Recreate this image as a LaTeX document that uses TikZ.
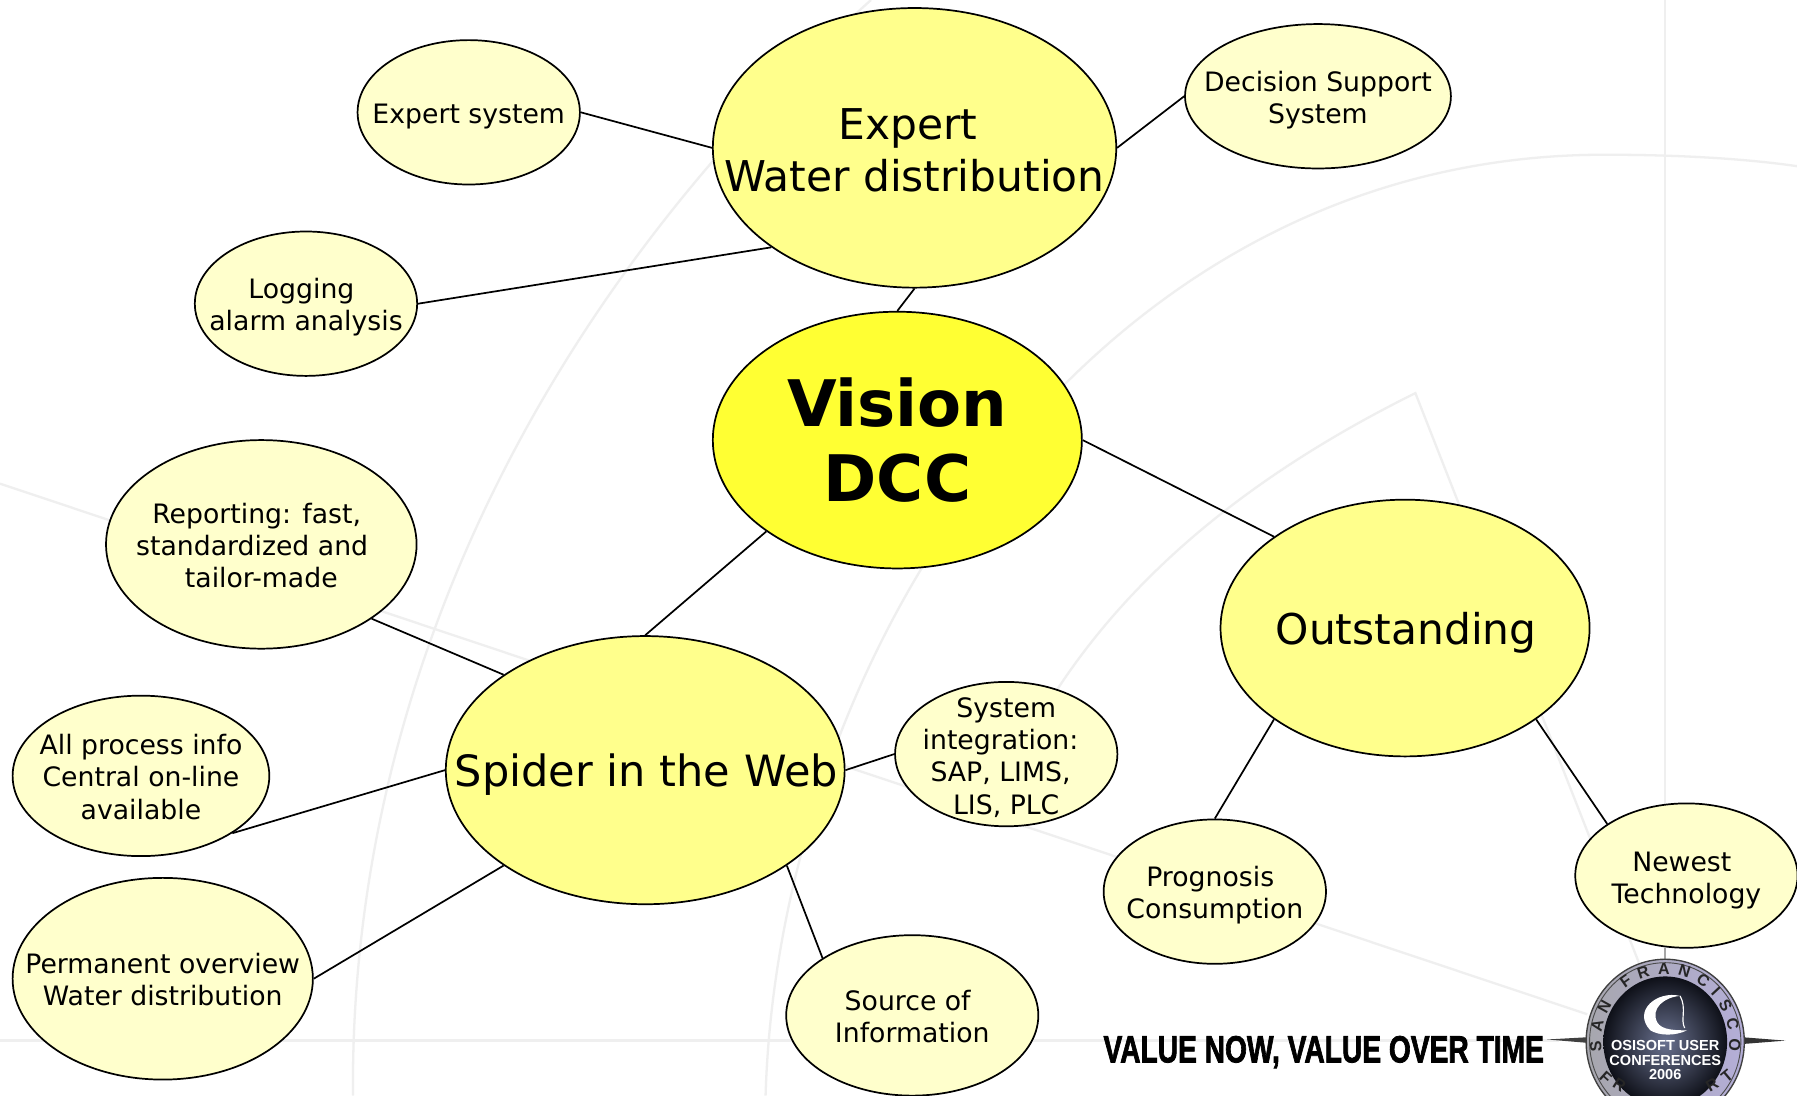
\documentclass[tikz,border=0pt]{standalone}
\usepackage{fontspec}
\setmainfont{DejaVu Sans}
\newfontfamily\sloganfont{Liberation Sans Bold}[FakeBold=2.2]
\newfontfamily\logofont{Liberation Sans Bold}
\usetikzlibrary{shapes.geometric,decorations.text,calc}
\definecolor{small}{HTML}{FFFFCC}
\definecolor{mid}{HTML}{FFFF8C}
\definecolor{core}{HTML}{FFFF33}
\definecolor{wm}{HTML}{EFEFEF}
\definecolor{ringa}{HTML}{C4C4CC}
\definecolor{ringb}{HTML}{B4AED8}
\definecolor{globein}{HTML}{6A7290}
\definecolor{globeout}{HTML}{0E1018}
\newcommand{\shiftln}[1]{\hspace*{#1pt}}
\tikzset{
  x=1pt,y=-1pt,
  bub/.style args={#1/#2}{ellipse,draw=black,line width=1.5pt,inner sep=0pt,minimum width=2*#1pt,minimum height=2*#2pt},
  smallb/.style={bub=#1,fill=small},
  midb/.style={bub=#1,fill=mid},
  coreb/.style={bub=#1,fill=core},
  lab/.style={align=center,inner sep=0pt},
  smalltxt/.style={lab,yshift=-3pt,font=\fontsize{23.3}{28}\selectfont},
  midtxt/.style={lab,yshift=-3pt,font=\fontsize{37}{45}\selectfont},
  coretxt/.style={lab,font=\fontsize{56}{66}\selectfont\bfseries},
  link/.style={line width=1.5pt,draw=black},
  wmline/.style={line width=2pt,draw=wm},
  logoletter/.style={lab,text=black!85,font=\fontsize{14}{14}\logofont},
}
\begin{document}
\begin{tikzpicture}
\useasboundingbox (0,0) rectangle (1568,955.5);
\fill[white] (0,0) rectangle (1568,955.5);
\begin{scope}
\clip (0,0) rectangle (1568,955.5);
% watermark
\draw[wmline] (0,422) -- (1385,885);
\draw[wmline] (0,908) -- (1360,908);
\draw[wmline] (1453,0) -- (1453,830);
\draw[wmline] (308,956) .. controls (305,600) and (470,260) .. (760,0);
\draw[wmline] (668,956) .. controls (680,560) and (960,135) .. (1400,135) .. controls (1460,135) and (1520,138) .. (1568,145);
\draw[wmline] (905,630) .. controls (980,500) and (1100,410) .. (1235,343) -- (1430,840);
% logo
\fill[black!75] (1350,907) -- (1386,905) -- (1386,910) -- cycle;
\fill[black!80] (1558,908) -- (1520,905) -- (1520,911) -- cycle;
\fill[black!35] (1452,827) rectangle (1454,840);
\shade[left color=ringa!85!black,right color=ringb,draw=black!75,line width=1.2pt] (1453,909) ellipse (69 and 72);
\draw[black!70,line width=0.8pt] (1453,909) ellipse (66 and 69);
\shade[shading=radial,inner color=globein,outer color=globeout] (1453,909) ellipse (54 and 57);
\path[decorate,decoration={text along path,text align=fit to path,text={|\logofont\fontsize{14}{14}\selectfont\color{black!85}|SAN FRANCISCO}}]
  plot[domain=188:-8,samples=70] ({1453+56*cos(\x)},{909-59*sin(\x)});
\fill[white] (1440,899) .. controls (1424,882) and (1446,864) .. (1466,869) .. controls (1452,870) and (1440,880) .. (1446,892) .. controls (1450,899) and (1462,899) .. (1472,899) .. controls (1462,904) and (1448,904) .. (1440,899) -- cycle;
\draw[white,line width=1pt] (1466,869) .. controls (1472,880) and (1466,890) .. (1470,897);
\node[lab,text=white,font=\fontsize{12.7}{12.8}\logofont] (logotxt) at (1453,925) {OSISOFT USER\\CONFERENCES\\2006};
\node[logoletter,rotate=-42] (fr) at (1401,940) {F};
\node[logoletter,rotate=-32] (rr) at (1413,947) {R};
\node[logoletter,rotate=30] (r2) at (1494,947) {R};
\node[logoletter,rotate=40] (t2) at (1507,939) {T};
\node[lab,font=\fontsize{33}{33}\sloganfont,xscale=0.745,transform shape] (slogan) at (1155,918) {VALUE NOW, VALUE OVER TIME};
\end{scope}
% bubbles
\node[midb=176/122,label={[midtxt,yshift=1pt]center:\shiftln{-12}Expert\\Water distribution}] (expert) at (798,129) {};
\node[smallb=97/63,label={[smalltxt,yshift=-1pt]center:Expert system}] (es) at (409,98) {};
\node[smallb=116/63,label={[smalltxt]center:Decision Support\\System}] (dss) at (1150,84) {};
\node[smallb=97/63,label={[smalltxt]center:\shiftln{-8}Logging\\alarm analysis}] (log) at (267,265) {};
\node[coreb=161/112,label={[coretxt]center:Vision\\DCC}] (vision) at (783,384) {};
\node[smallb=135.5/91,label={[smalltxt,yshift=2pt]center:\shiftln{-8}Reporting: fast,\\\shiftln{-16}standardized and\\tailor-made}] (rep) at (228,475) {};
\node[midb=174/117,label={[midtxt,yshift=-1pt,xshift=1pt,font=\fontsize{37.6}{45}\selectfont]center:Spider in the Web}] (spider) at (563,672) {};
\node[smallb=112/70,label={[smalltxt,yshift=2pt]center:All process info\\Central on-line\\available}] (all) at (123,677) {};
\node[smallb=131/88,label={[smalltxt,yshift=2pt]center:Permanent overview\\Water distribution}] (perm) at (142,854) {};
\node[smallb=97/63,label={[smalltxt]center:System\\\shiftln{-10}integration:\\\shiftln{-10}SAP, LIMS,\\LIS, PLC}] (sys) at (878,658) {};
\node[smallb=110/70,label={[smalltxt,yshift=2pt]center:\shiftln{-8}Source of\\Information}] (src) at (796,886) {};
\node[midb=161/112,label={[midtxt,yshift=-1pt,xshift=1pt]center:Outstanding}] (out) at (1226,548) {};
\node[smallb=97/63,label={[smalltxt]center:\shiftln{-8}Prognosis\\Consumption}] (prog) at (1060,778) {};
\node[smallb=97/63,label={[smalltxt,yshift=-1pt]center:\shiftln{-8}Newest\\Technology}] (new) at (1471.5,764) {};
% connectors
\draw[link] (es.east) -- (expert.west);
\draw[link] (dss.west) -- (expert.east);
\draw[link] (log.east) -- (expert.south west);
\draw[link] (expert.south) -- (vision.north);
\draw[link] (vision.east) -- (out.north west);
\draw[link] (vision.south west) -- (spider.north);
\draw[link] (rep.south east) -- (spider.north west);
\draw[link] (all.south east) -- (spider.west);
\draw[link] (perm.east) -- (spider.south west);
\draw[link] (spider.east) -- (sys.west);
\draw[link] (spider.south east) -- (src.north west);
\draw[link] (out.south west) -- (prog.north);
\draw[link] (out.south east) -- (new.north west);
\end{tikzpicture}
\end{document}
